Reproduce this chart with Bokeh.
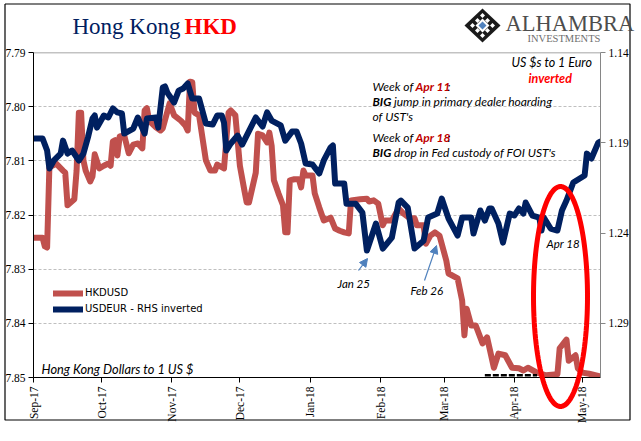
import numpy as np
from bokeh.core.properties import value
from bokeh.embed import file_html
from bokeh.layouts import column
from bokeh.resources import INLINE
from bokeh.plotting import figure
from bokeh.models import (Range1d, LinearAxis, FixedTicker, Legend, LegendItem, Arrow, NormalHead)

title_parts = ["Hong Kong", "HKD"]
month_ticks = [0, 30, 61, 91, 122, 153, 181, 212, 242]
month_labels = ["Sep-17", "Oct-17", "Nov-17", "Dec-17", "Jan-18", "Feb-18", "Mar-18", "Apr-18", "May-18"]
left_ticks = [7.79, 7.80, 7.81, 7.82, 7.83, 7.84, 7.85]
right_ticks = [1.14, 1.19, 1.24, 1.29]

hk_days = [0,4,5,6,7,10,13,14,15,18,19,20,21,22,23,25,26,27,29,31,33,34,35,36,37,38,40,42,44,46,48,49,50,51,54,56,57,60,62,65,67,68,69,70,71,73,76,78,80,81,84,86,87,89,91,93,94,95,98,99,101,103,104,105,106,108,110,111,112,113,115,117,118,119,120,123,124,126,128,131,133,135,137,139,140,144,147,148,150,152,154,155,158,161,163,166,168,169,172,173,175,177,179,182,183,187,189,190,191,193,195,198,200,203,205,208,211,214,216,218,222,226,231,232,235,236,239,240,242,245,250]
hk_vals = [7.8242,7.8242,7.8258,7.8260,7.8112,7.8105,7.8118,7.8122,7.8182,7.8171,7.8118,7.8011,7.8011,7.8099,7.8118,7.8138,7.8129,7.8088,7.8114,7.8109,7.8105,7.8109,7.8064,7.8062,7.8090,7.8055,7.8053,7.8086,7.8070,7.8068,7.8077,7.8007,7.8003,7.8026,7.8038,7.8044,7.8040,7.7994,7.8016,7.8026,7.8035,7.8044,7.7954,7.7955,7.8011,7.8016,7.8099,7.8118,7.8118,7.8107,7.8114,7.8011,7.8007,7.8016,7.8109,7.8155,7.8177,7.8177,7.8122,7.8050,7.8053,7.8066,7.8048,7.8072,7.8136,7.8160,7.8182,7.8232,7.8232,7.8136,7.8134,7.8134,7.8149,7.8118,7.8127,7.8127,7.8160,7.8186,7.8210,7.8205,7.8225,7.8229,7.8232,7.8234,7.8173,7.8171,7.8170,7.8175,7.8173,7.8179,7.8219,7.8210,7.8210,7.8188,7.8197,7.8206,7.8206,7.8219,7.8219,7.8253,7.8238,7.8232,7.8238,7.8284,7.8308,7.8317,7.8358,7.8422,7.8373,7.8404,7.8404,7.8437,7.8426,7.8482,7.8456,7.8459,7.8482,7.8483,7.8487,7.8482,7.8491,7.8496,7.8494,7.8446,7.8430,7.8469,7.8459,7.8483,7.8491,7.8493,7.8498]

eur_days = [0,4,6,7,9,12,13,15,17,20,22,24,26,27,28,31,33,35,37,39,40,44,46,49,50,54,55,57,58,59,62,64,66,68,70,73,76,79,81,83,84,85,87,90,92,94,98,101,103,105,109,111,114,116,118,120,123,126,128,131,132,133,137,138,142,145,147,151,154,158,161,162,165,168,172,174,178,180,183,187,189,193,194,197,199,201,202,205,207,210,212,214,216,217,220,223,224,225,228,231,233,235,238,243,244,246,249,250]
eur_vals = [1.1876,1.1876,1.1943,1.2042,1.1998,1.1960,1.1888,1.1960,1.1943,1.1998,1.1960,1.1871,1.1766,1.1749,1.1816,1.1749,1.1760,1.1710,1.1732,1.1738,1.1849,1.1821,1.1760,1.1849,1.1766,1.1760,1.1816,1.1594,1.1588,1.1622,1.1677,1.1611,1.1599,1.1572,1.1655,1.1655,1.1793,1.1799,1.1749,1.1749,1.1788,1.1943,1.1904,1.1860,1.1910,1.1860,1.1760,1.1810,1.1732,1.1777,1.1804,1.1888,1.1838,1.1838,1.1904,1.2015,1.2020,1.2070,1.1998,1.1926,1.1915,1.2126,1.2126,1.2237,1.2237,1.2286,1.2497,1.2347,1.2486,1.2425,1.2231,1.2220,1.2259,1.2486,1.2442,1.2314,1.2292,1.2209,1.2320,1.2414,1.2314,1.2314,1.2403,1.2275,1.2331,1.2264,1.2264,1.2347,1.2453,1.2292,1.2303,1.2264,1.2292,1.2231,1.2303,1.2314,1.2386,1.2314,1.2375,1.2386,1.2275,1.2220,1.2120,1.2081,1.1960,1.1987,1.1899,1.1893]

dash_days = [199, 222]
dash_vals = [7.8496, 7.8496]

RED = "#C0504D"
NAVY = "#002060"
SERIF = "Liberation Serif"
NOTE = "Lato"
W, H = 636, 425

p = figure(width=W, height=H, output_backend="svg", toolbar_location=None,
           x_range=Range1d(0, 250), y_range=Range1d(7.85, 7.79),
           frame_width=567, frame_height=325,
           min_border_left=33, min_border_right=36, min_border_top=52, min_border_bottom=48,
           x_axis_location="below", y_axis_location="left")
p.frame_align = False
p.outline_line_color = None
p.background_fill_color = "white"
p.border_fill_color = "white"

p.extra_y_ranges = {"eur": Range1d(1.32, 1.14)}
ax_r = LinearAxis(y_range_name="eur", ticker=FixedTicker(ticks=right_ticks))
ax_r.major_label_overrides = {t: f"{t:.2f}" for t in right_ticks}
p.add_layout(ax_r, "right")

for ax in p.yaxis:
    ax.minor_tick_line_color = None
    ax.major_tick_in = 0
    ax.major_tick_out = 5
    ax.major_label_text_font = SERIF
    ax.major_label_text_font_size = "11.5px"
    ax.major_label_text_color = "black"
    ax.major_label_standoff = 3
ax_l = p.yaxis[0]
ax_l.ticker = FixedTicker(ticks=left_ticks)
ax_l.major_label_overrides = {t: f"{t:.2f}" for t in left_ticks}
ax_l.axis_line_color = "black"
ax_r.axis_line_color = "#868686"
ax_r.major_tick_line_color = "#868686"

xa = p.xaxis[0]
xa.ticker = FixedTicker(ticks=month_ticks)
xa.major_label_overrides = dict(zip(month_ticks, month_labels))
xa.major_label_orientation = np.pi / 2
xa.major_label_text_font = SERIF
xa.major_label_text_font_size = "11.5px"
xa.major_label_text_color = "black"
xa.major_label_standoff = 4
xa.minor_tick_line_color = None
xa.major_tick_in = 0
xa.major_tick_out = 5
xa.axis_line_color = "black"

p.xgrid.visible = False
p.ygrid[0].ticker = FixedTicker(ticks=left_ticks)
p.ygrid[0].grid_line_color = "#BFBFBF"
p.ygrid[0].grid_line_dash = "3 2"
p.ygrid[0].grid_line_width = 1

p.line(x=[0, 250], y=[7.79, 7.79], line_color="#868686", line_width=1.5)

r_hk = p.line(hk_days, hk_vals, line_color=RED, line_width=6, line_join="round", line_cap="round")
r_eur = p.line(eur_days, eur_vals, y_range_name="eur", line_color=NAVY, line_width=6, line_join="round", line_cap="round")
p.line(dash_days, dash_vals, line_color="black", line_width=2.5, line_dash="6 2")

legend = Legend(items=[LegendItem(label="HKDUSD", renderers=[r_hk]),
                       LegendItem(label="USDEUR - RHS inverted", renderers=[r_eur])],
                location=(20, 63), orientation="vertical",
                background_fill_alpha=0, border_line_color=None,
                glyph_width=30, glyph_height=10, spacing=5, margin=0, padding=0,
                label_text_font="DejaVu Sans", label_text_font_size="10px",
                label_text_color="black", label_standoff=2)
p.add_layout(legend, "center")

# Transparent sheet laid over the chart, for everything that lies outside the plot area
o = figure(width=W, height=H, output_backend="svg", toolbar_location=None,
           x_range=Range1d(0, W), y_range=Range1d(H, 0), x_axis_type=None, y_axis_type=None,
           min_border=0, min_border_left=0, min_border_right=0, min_border_top=0, min_border_bottom=0)
o.frame_align = False
o.outline_line_color = None
o.background_fill_alpha = 0
o.border_fill_alpha = 0
o.grid.visible = False
o.margin = (-H, 0, 0, 0)


def txt(x, y, s, color="black", font=NOTE, size="12px", style="italic"):
    o.text(x=[x], y=[y], text=[s], text_color=color, text_font=value(font), text_font_size=size,
           text_font_style=style, text_baseline="middle", text_align="left")


# chart frame
o.line([4.5, 629.5, 629.5, 4.5, 4.5], [3.5, 3.5, 419.5, 419.5, 3.5], line_color="black", line_width=1.2)

# title
txt(72, 26, title_parts[0], NAVY, SERIF, "23px", "normal")
txt(184, 26, title_parts[1], "#FF0000", SERIF, "23px", "bold")

# logo
cx, cy = 482, 25


def diamond(dx, dy, hw, hh, color):
    o.patch([cx + dx - hw, cx + dx, cx + dx + hw, cx + dx], [cy + dy, cy + dy - hh, cy + dy, cy + dy + hh],
            fill_color=color, line_color=None)


diamond(0, 0, 18, 17, "#1A1A1A")
for dx, dy in [(-10, 0), (10, 0), (0, -10), (0, 10), (-5, -5), (5, -5), (-5, 5), (5, 5)]:
    diamond(dx, dy, 2.5, 2.5, "white")
diamond(0, 0, 7, 7, "white")
diamond(0, 0, 4, 4, "#4F81BD")
txt(505, 23, "ALHAMBRA", "#4D4D4D", SERIF, "22.5px", "normal")
txt(527, 38, "INVESTMENTS", "#6E6E6E", SERIF, "10.5px", "normal")

# notes
txt(511, 62, "US $s to 1 Euro", size="12.5px")
txt(528, 78, "inverted", "#FF0000", size="12.5px", style="bold italic")
txt(372, 86, "Week of")
txt(415, 86, "Apr 11", "#C00000", style="bold italic")
txt(447, 86, ":")
txt(372, 101, "BIG", style="bold italic")
txt(393.5, 101, "jump in primary dealer hoarding")
txt(372, 116, "of UST's")
txt(372, 137, "Week of")
txt(415, 137, "Apr 18", "#C00000", style="bold italic")
txt(447, 137, ":")
txt(372, 152, "BIG", style="bold italic")
txt(393.5, 152, "drop in Fed custody of FOI UST's")
txt(546, 243, "Apr 18", size="11.5px")
txt(337, 283, "Jan 25", size="11.5px")
txt(410, 290, "Feb 26", size="11.5px")
txt(41, 368, "Hong Kong Dollars to 1 US $", size="12.8px")

# arrows
for x0, y0, x1, y1 in [(358, 270, 367, 258), (424, 280, 436, 245)]:
    o.add_layout(Arrow(x_start=x0, y_start=y0, x_end=x1, y_end=y1,
                       line_color="#4F81BD", line_width=1.2,
                       end=NormalHead(size=8, fill_color="#4F81BD", line_color="#4F81BD")))

# red oval
t = np.linspace(0, 2 * np.pi, 120)
o.line(560 + 27 * np.cos(t), 296 + 110 * np.sin(t), line_color="#FF0000", line_width=5)

open("out.html", "w").write(file_html(column(p, o, spacing=0), INLINE))
